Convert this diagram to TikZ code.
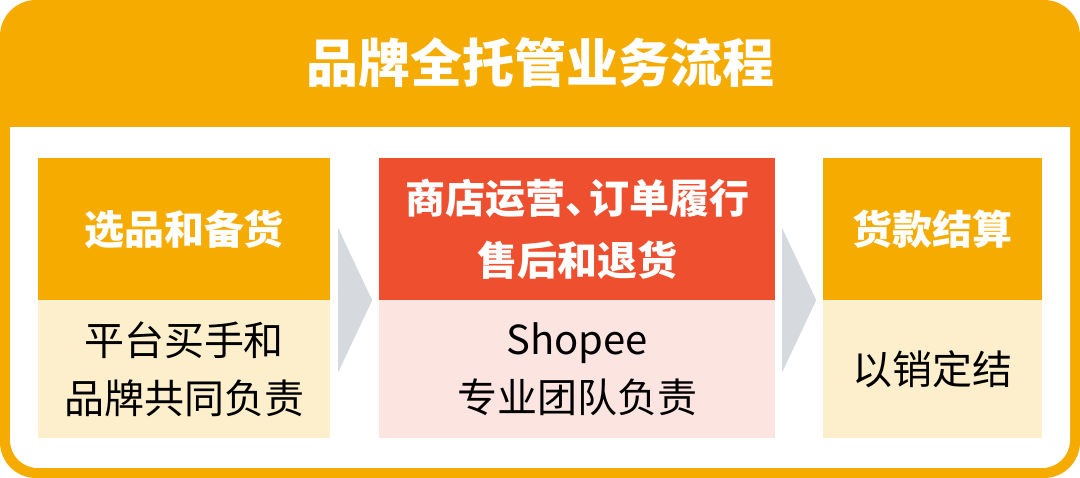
\documentclass[tikz,border=0pt]{standalone}
\usepackage{fontspec}
\setmainfont{Noto Sans CJK SC}
\usetikzlibrary{positioning,calc}
\definecolor{brandorange}{HTML}{F5AB00}
\definecolor{brandred}{HTML}{EE4F2F}
\definecolor{paleyellow}{HTML}{FDEFCC}
\definecolor{palepink}{HTML}{FCE4E0}
\definecolor{chevrongray}{HTML}{D6DADF}
\begin{document}
\begin{tikzpicture}[x=1pt, y=-1pt,
        head/.style={fill=brandorange, text=white, inner sep=0pt, align=center, minimum height=142pt,
            font=\fontsize{40}{62}\selectfont\bfseries},
        body/.style={fill=paleyellow, text=black, inner sep=0pt, align=center, minimum height=138pt,
            font=\fontsize{40}{58}\selectfont},
        chevron/.style={fill=chevrongray}]

    \useasboundingbox (0,0) rectangle (1080,478);
    \fill[brandorange, rounded corners=36pt] (0,0) rectangle (1080,478);
    \fill[white, rounded corners=28pt] (10,100) rectangle (1070,468);
    \fill[brandorange] (10,99) rectangle (1070,127);

    \node[text=white, font=\fontsize{52}{60}\selectfont\bfseries] (title) at (540,63) {品牌全托管业务流程};

    \node[head, minimum width=292pt] (select) at (184,229) {选品和备货};
    \node[body, minimum width=292pt, below=0pt of select] (selectby) {平台买手和\\品牌共同负责};

    \node[head, fill=brandred, minimum width=396pt] (operate) at (577,229) {商店运营、\kern-0.4em订单履行\\售后和退货};
    \node[body, fill=palepink, minimum width=396pt, below=0pt of operate] (operateby) {Shopee\\专业团队负责};

    \node[head, minimum width=219pt] (settle) at (932.5,229) {货款结算};
    \node[body, minimum width=219pt, below=0pt of settle] (settleby) {以销定结};

    \fill[chevron] ($(select.south east)+(8,-72)$) -- ($(select.south east)+(42,0)$) -- ($(select.south east)+(8,72)$) -- cycle;
    \fill[chevron] ($(operate.south east)+(7,-72)$) -- ($(operate.south east)+(41,0)$) -- ($(operate.south east)+(7,72)$) -- cycle;
\end{tikzpicture}
\end{document}
